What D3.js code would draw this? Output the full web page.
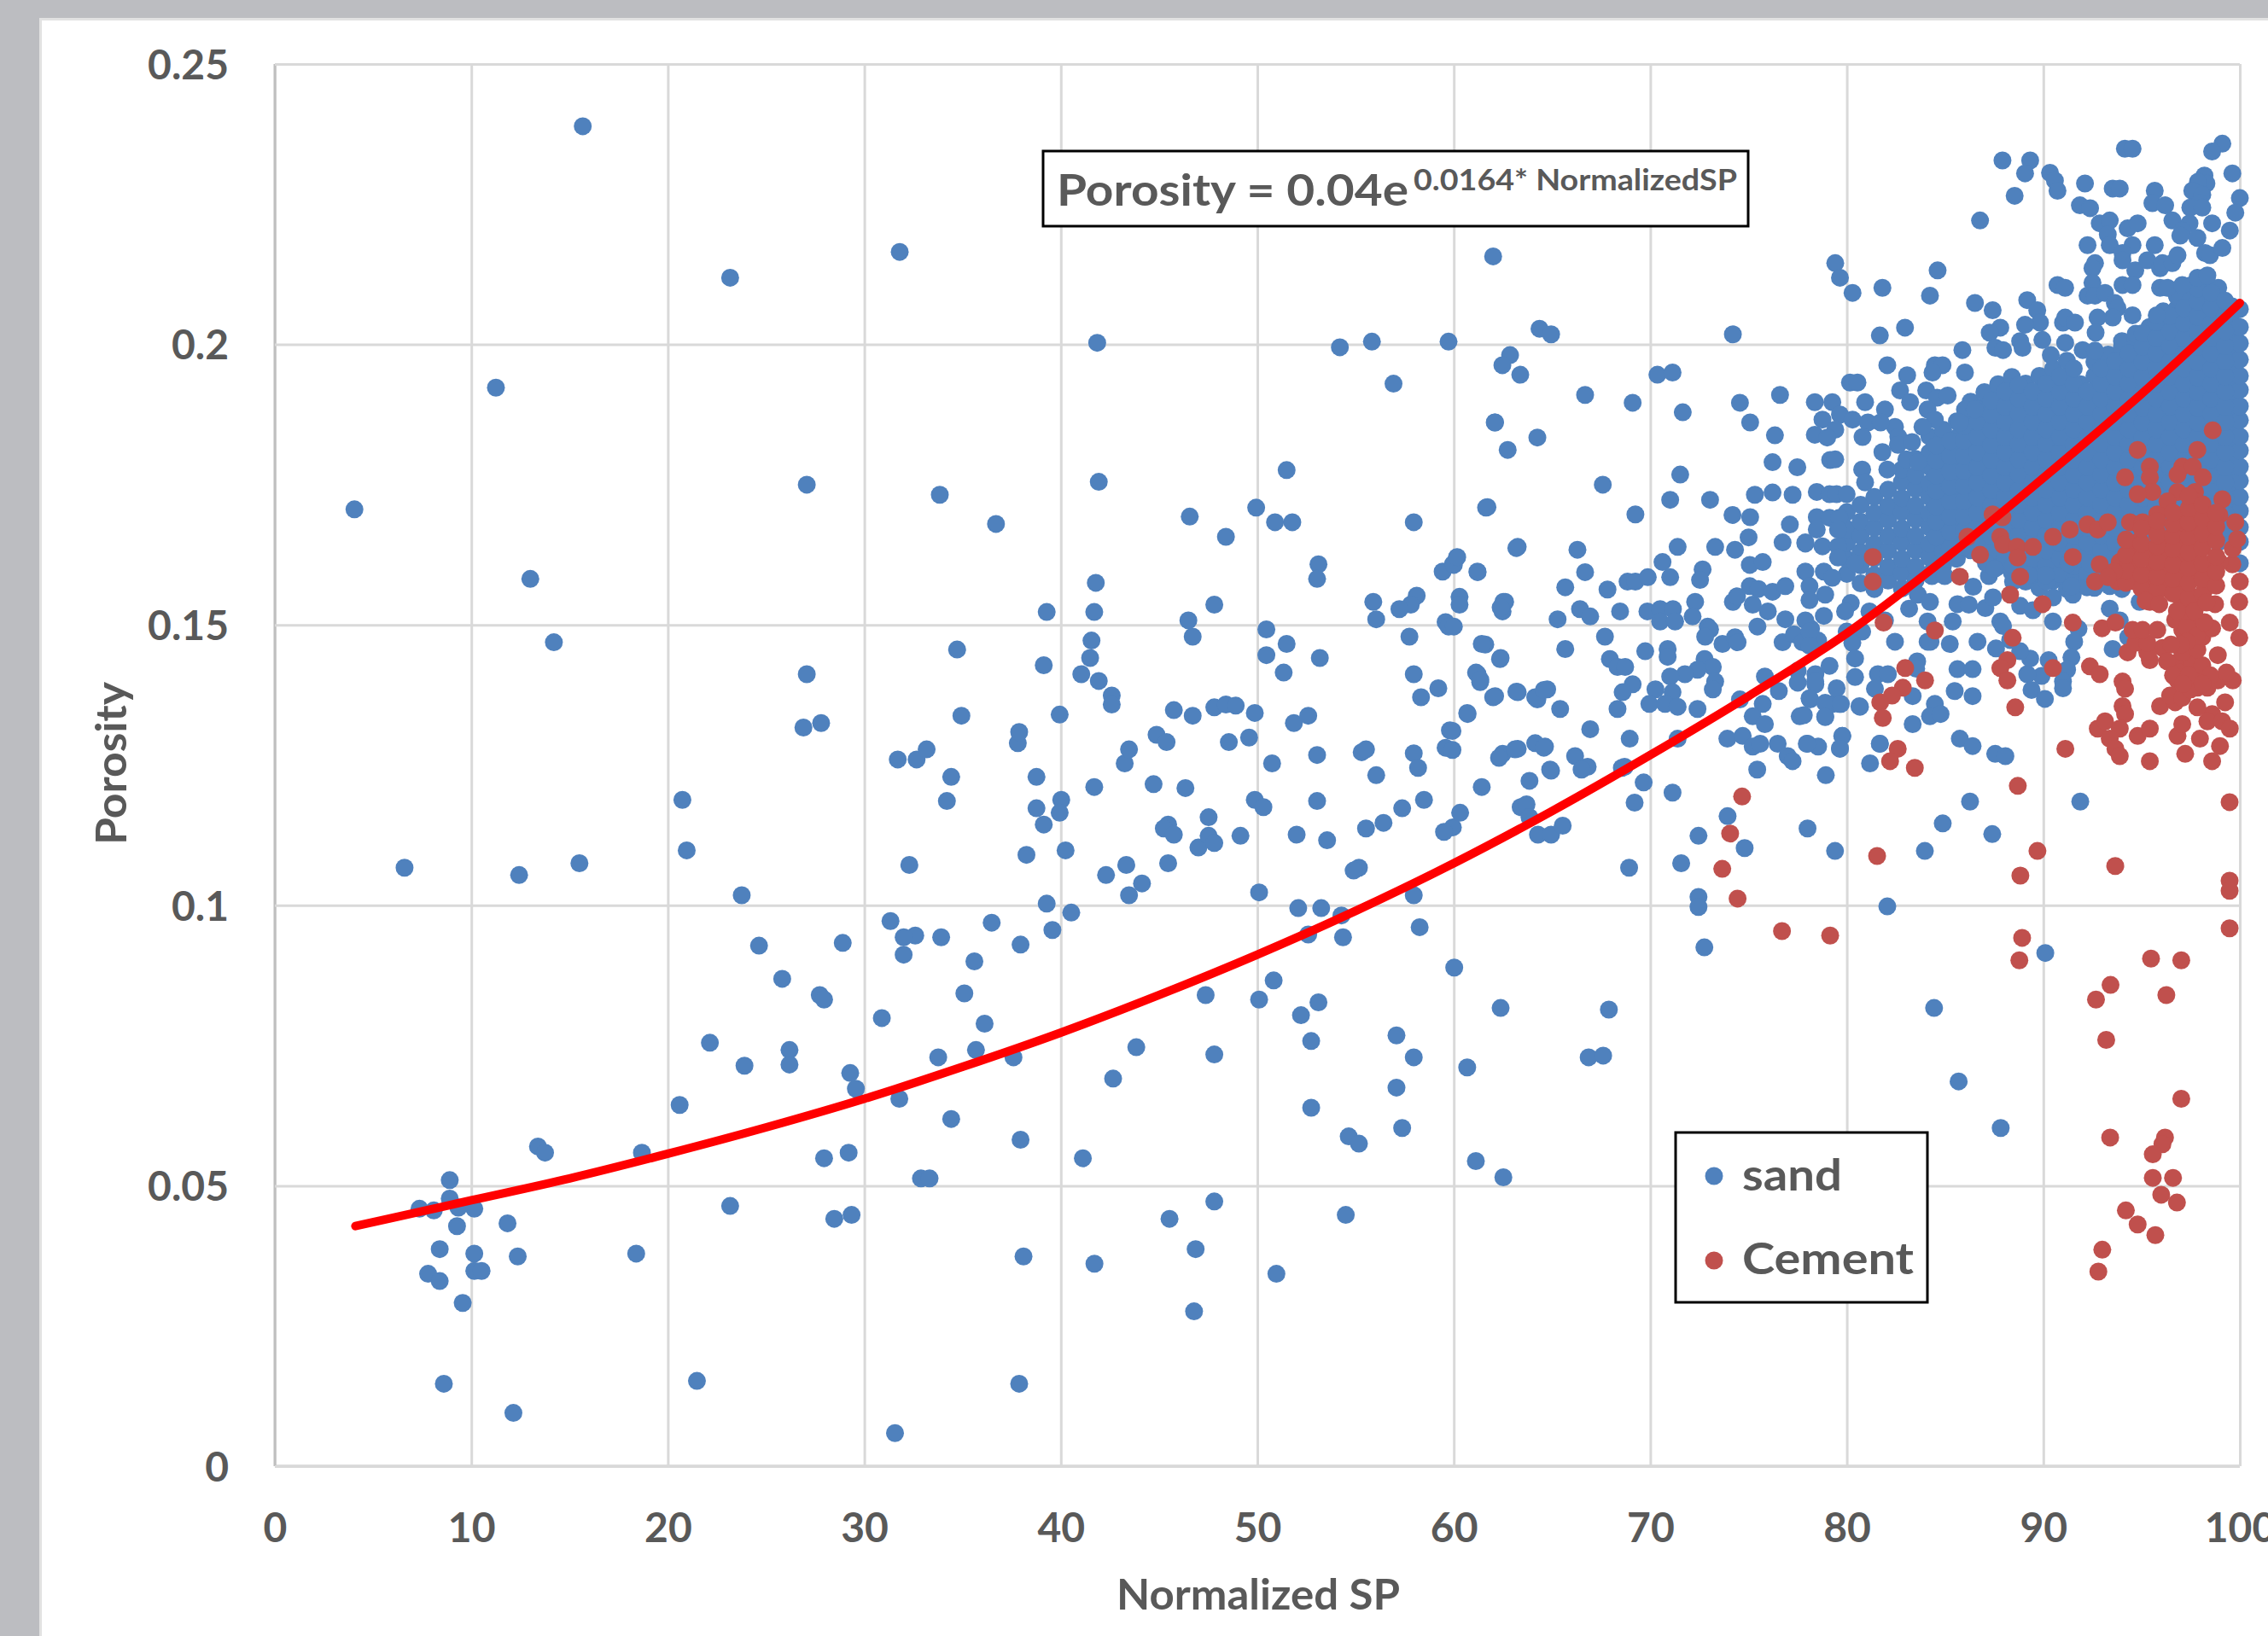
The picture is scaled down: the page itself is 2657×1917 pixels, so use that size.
<!DOCTYPE html>
<html>
<head>
<meta charset="utf-8">
<script src="https://d3js.org/d3.v7.min.js"></script>
<style>
html, body { margin: 0; padding: 0; background: #bcbdc1; }
svg { display: block; }
text { font-family: Lato, "Open Sans", sans-serif; font-weight: 700; fill: #595959; }
</style>
</head>
<body>
<svg id="chart" width="2657" height="1917"></svg>
<script>
var xTicks = [0, 10, 20, 30, 40, 50, 60, 70, 80, 90, 100];
var yTicks = [0, 0.05, 0.1, 0.15, 0.2, 0.25];

// scattered sand points, left part of the plot
var sandLeft = [
[4.05,.1706],[6.6,.1067],[15.67,.2389],[11.25,.1923],[13,.1582],[14.2,.1469],[12.43,.1054],[15.5,.1075],[23.17,.2119],[31.8,.2165],
[27.07,.175],[27.07,.1412],[26.9,.1317],[27.8,.1325],[20.74,.1188],[20.96,.1098],[23.76,.1018],[24.64,.0928],[25.82,.0869],[28.9,.0933],
[27.73,.084],[27.95,.0832],[26.19,.0742],[26.19,.0716],[22.14,.0755],[23.9,.0714],[20.6,.0644],[29.28,.0701],[29.57,.0673],[30.89,.0799],
[31.78,.0655],[27.95,.0549],[29.2,.0559],[28.47,.0441],[29.35,.0448],[23.17,.0464],[18.39,.0379],[18.68,.0559],[13.39,.057],[13.75,.0559],
[11.84,.0433],[12.36,.0374],[8.9,.051],[8.9,.0477],[7.36,.0459],[8.09,.0456],[9.34,.0461],[10.15,.0459],[9.27,.0428],[8.39,.0387],
[7.8,.0343],[8.39,.033],[10.15,.0379],[10.15,.0348],[10.52,.0348],[9.56,.0291],[8.6,.0147],[12.14,.0095],[21.48,.0152],[37.88,.0147],
[31.56,.0059],[31.7,.126],[32.66,.126],[33.17,.1278],[32.29,.1072],[34.2,.1186],[34.42,.1229],[34.72,.1456],[33.84,.1732],[36.7,.168],
[34.94,.1338],[37.81,.1289],[37.88,.1309],[38.76,.1229],[39.13,.1428],[39.28,.1523],[41.85,.2003],[41.93,.1755],[41.78,.1575],[41.7,.1523],
[41.56,.1472],[41.49,.1441],[41.04,.1412],[41.93,.14],[42.59,.1374],[42.59,.1358],[39.94,.134],[41.7,.1211],[38.76,.1173],[40.02,.1188],
[39.13,.1144],[39.94,.1165],[40.24,.1098],[38.25,.109],[39.28,.1003],[40.53,.0987],[39.57,.0956],[37.95,.093],[36.48,.0969],[35.6,.09],
[31.33,.0972],[32.59,.0946],[32,.0943],[32,.0912],[33.91,.0943],[35.09,.0843],[36.12,.0789],[35.68,.0742],[37.59,.0729],[33.76,.0729],
[34.42,.0619],[37.95,.0582],[41.12,.0549],[32.88,.0513],[33.32,.0513],[38.1,.0374],[41.71,.0361],[42.66,.0691],[43.84,.0747],[42.3,.1054],
[43.33,.1072],[43.47,.1018],[44.13,.1039],[43.25,.1253],[43.47,.1278],[44.72,.1216],[44.87,.1304],[45.38,.1291],[45.75,.1348],[46.71,.1338],
[47.81,.1353],[48.4,.1358],[48.9,.1356],[49.87,.1343],[48.55,.1291],[49.58,.1299],[46.34,.1209],[47.52,.1157],[45.46,.1144],[45.24,.1137],
[45.75,.1126],[45.46,.1075],[47,.1103],[47.52,.1124],[47.81,.1111],[49.14,.1124],[49.87,.1188],[50.31,.1175],[50.09,.1023],[46.49,.1508],
[46.71,.1479],[47.81,.1536],[46.56,.1693],[48.4,.1657],[49.94,.1709],[50.9,.1683],[51.78,.1683],[51.49,.1776],[53.11,.1608],[53.04,.1582],
[50.46,.1492],[50.46,.1446],[51.49,.1466],[51.34,.1415],[53.18,.1441],[51.86,.1325],[52.59,.1338],[50.75,.1253],[53.04,.1268],[53.04,.1186],
[52,.1126],[53.55,.1116],[55.31,.1273],[55.53,.1278],[56.05,.1232],[55.53,.1137],[56.42,.1147],[57.37,.1173],[57.96,.1271],[58.18,.1245],
[58.48,.1188],[55.17,.1067],[54.9,.1062],[54.28,.0982],[52.08,.0995],[53.25,.0995],[52.59,.0948],[54.36,.0943],[50.83,.0866],[50.09,.0832],
[53.11,.0827],[52.22,.0804],[52.74,.0758],[52.74,.0639],[47.37,.084],[47.81,.0734],[45.53,.0441],[47.81,.0472],[46.86,.0387],[46.78,.0276],
[50.97,.0343],[54.5,.0448],[54.65,.0588],[55.17,.0575],[57.08,.0768],[57.08,.0675],[57.37,.0603],[57.96,.0729],[57.96,.1018],[58.26,.0961],
[54.2,.1995],[55.83,.2005],[59.73,.2005],[56.93,.193],[57.96,.1683],[59.95,.1608],[59.43,.1595],[58.11,.1552],[57.81,.1536],[55.9,.1541],
[57.23,.1528],[56.05,.151],[57.74,.1479],[59.58,.1505],[59.73,.1497],[57.96,.1412],[59.21,.1387],[58.33,.1371],[59.8,.1312],[59.58,.1281],
[59.95,.1139],[59.5,.1131]
];

// scattered sand points, x from 60 to 80
var sandMiddle = [
[62,.2157],[62.86,.1981],[62.47,.1963],[63.38,.1946],[64.36,.2028],[64.95,.2018],[66.68,.191],[69.1,.1896],[71.65,.1879],[70.36,.1946],
[71.13,.195],[62.1,.1861],[64.25,.1834],[62.74,.1812],[67.58,.175],[61.71,.171],[71.52,.1768],[71.01,.1723],[69.24,.1697],[73.04,.1723],
[74.2,.2018],[74.56,.1896],[76.6,.191],[75.08,.1861],[76.34,.1838],[76.22,.179],[77.48,.1781],[75.32,.1732],[76.22,.1736],[77.24,.1732],
[74.18,.1696],[75.08,.1692],[77.1,.1679],[75,.1656],[74.31,.1634],[73.3,.1639],[71.39,.1639],[70.62,.1612],[63.25,.1639],[66.29,.1634],
[66.68,.1594],[60.15,.162],[60,.1607],[61.21,.1594],[65.67,.1567],[67.82,.1563],[68.84,.1577],[69.24,.1577],[69.87,.1585],[71.01,.1585],
[72.66,.1599],[72.53,.158],[75.06,.1607],[75.72,.1612],[76.73,.1647],[77.89,.1647],[60.29,.155],[60.29,.1536],[62.61,.1541],[62.48,.1524],
[66.42,.1528],[66.94,.1515],[65.28,.151],[68.46,.1524],[69.85,.1524],[70.5,.1528],[71.15,.1528],[70.5,.1506],[71.26,.1506],[72.28,.1541],
[72.15,.1515],[72.92,.1497],[73.04,.1492],[72.79,.1479],[74.2,.1541],[75.21,.1536],[75.98,.1524],[75.06,.1569],[75.5,.1564],[74.41,.1551],
[76.22,.1559],[76.87,.1569],[76.87,.151],[75.45,.1497],[60,.1497],[67.69,.1479],[61.6,.1465],[65.67,.1457],[62.35,.1439],[67.94,.1439],
[68.33,.1425],[68.72,.1425],[69.74,.1453],[70.88,.1457],[70.88,.1443],[73.67,.1466],[74.31,.1478],[74.44,.1469],[76.73,.1469],[77.31,.1483],
[77.74,.1469],[78.18,.1493],[78.54,.1472],[72.76,.1439],[73.18,.1425],[72.4,.142],[71.76,.1412],[71.01,.1408],[73.3,.1399],[73.18,.1385],
[71.13,.138],[69.1,.1394],[68.59,.138],[70.26,.1385],[69.95,.1359],[70.75,.1359],[71.39,.1354],[72.4,.135],[68.33,.135],[61.21,.1412],
[61.34,.1398],[62.1,.1373],[63.25,.138],[64.75,.1385],[64.25,.1367],[65.41,.135],[60.7,.1341],[59.93,.1311],[66.94,.1314],[68.95,.1297],
[71.39,.1297],[74.56,.1367],[75.83,.1408],[76.54,.1382],[75.72,.1359],[75.21,.1337],[75.83,.1323],[73.92,.1297],[74.7,.1302],[75.21,.1283],
[75.59,.1288],[76.48,.1288],[77.5,.1418],[77.5,.1397],[78.4,.1412],[78.4,.1394],[78.13,.1367],[77.6,.1337],[78.9,.1336],[79.26,.1359],
[79.63,.1359],[80.67,.1354],[79.77,.1302],[79.65,.128],[78,.1288],[78.54,.1283],[76.99,.1266],[77.24,.1257],[81.68,.1288],[81.18,.1253],
[62.48,.127],[63.25,.1279],[64.64,.1283],[66.17,.1266],[66.81,.1247],[59.93,.1277],[64.9,.1242],[68.69,.1247],[75.44,.1242],
[62.52,.1541],[62.38,.1531],[61.42,.1466],[61.13,.1415],[61.35,.1402],[62,.1371],[62.38,.1441],[63.18,.1381],[64.14,.1371],[64.58,.1384],
[63.11,.1278],[64.14,.1289],[60.68,.1343],[62.3,.1263],[61.42,.1211],[60.32,.1165],[63.85,.1222],[64.58,.1281],[64.95,.124],[63.4,.1175],
[63.7,.118],[63.85,.1157],[64.28,.1126],[64.95,.1126],[65.54,.1142],[60.17,.1621],[61.2,.1595],[62.08,.1861],[61.64,.1709],[63.18,.1637],
[66.5,.1242],[68.55,.1245],[69.2,.1183],[69.66,.1219],[68.92,.1067],[71.13,.1201],[72.45,.1124],[71.57,.1075],[72.45,.1015],[72.45,.0997],
[72.75,.0925],[67.89,.0814],[66.86,.0729],[67.6,.0732],[60.02,.0889],[60.68,.0711],[61.12,.0544],[62.52,.0515],[62.38,.0817],[73.93,.1159],
[74.8,.1102],[78,.1137],[79.4,.1097],[78.93,.1232]
];

// sand points around the top and lower rim of the dense cloud
var sandRim = [
[87.92,.2328],[89.33,.2328],[89.07,.2305],[88.54,.2265],[86.78,.2221],[90.34,.2306],[90.59,.2292],[90.72,.2274],[94.15,.2349],[94.54,.2349],
[99.11,.2358],[98.59,.2344],[99.62,.2305],[98.2,.2301],[92.12,.2287],[93.53,.2278],[93.89,.2278],[95.67,.2274],[98.3,.2287],[97.87,.229],
[97.58,.2274],[98.09,.2267],[97.94,.2252],[97.48,.2244],[98.09,.2244],[91.86,.2248],[92.38,.2243],[95.55,.2252],[96.2,.2248],[100,.2261],
[99.77,.2235],[98.59,.2216],[99.49,.2203],[96.57,.2221],[97.44,.2216],[97.07,.2203],[96.97,.2194],[97.84,.219],[92.87,.2216],[93.38,.2221],
[93.28,.2196],[94.29,.2207],[94.8,.2216],[92.25,.2177],[93.38,.2177],[94.54,.2177],[94.03,.2163],[94.03,.215],[95.67,.2177],[94.68,.2132],
[95.29,.215],[95.94,.2136],[96.06,.2145],[96.57,.2145],[96.83,.2159],[98.23,.2163],[98.48,.2159],[99.11,.2172],[92.63,.2145],[92.5,.2136],
[92.5,.211],[92.25,.2087],[92.63,.2087],[93.14,.2092],[93.64,.2074],[93.77,.2065],[93.53,.2048],[94.03,.2106],[94.54,.2106],[95.94,.2101],
[96.32,.2101],[97.07,.2106],[97.84,.2119],[98.35,.2123],[90.72,.2106],[91.11,.2101],[89.18,.2079],[89.69,.2061],[89.83,.2039],[89.07,.2035],
[91,.2039],[91.11,.2048],[91.61,.2039],[92.76,.2048],[94.54,.2052],[95.77,.2052],[92.66,.2021],[87.81,.203],[87.27,.2021],[87.42,.2061],
[86.52,.2074],[88.82,.2006],[89.95,.2008],[88.94,.1994],[87.56,.1994],[87.95,.199],[91.11,.2003],[90.38,.1981],[92,.199],[92.63,.1989],
[85.88,.199],[79.41,.2145],[79.65,.2119],[80.29,.2092],[81.81,.2101],[84.62,.2132],[84.23,.2087],[82.96,.203],[81.68,.2016],[82.06,.1963],
[83.07,.1945],[84.48,.1963],[84.87,.1963],[84.36,.195],[86.01,.195],[80.16,.1932],[80.54,.1932],[82.71,.1918],[80.93,.1897],[78.37,.1897],
[79.26,.1897],[78.76,.1866],[79.65,.1875],[80.29,.1866],[81.94,.1884],[83.22,.1897],[84.04,.1918],[84.59,.1905],[85.13,.1909],[84.11,.1884],
[84.48,.1866],[83.85,.1853],[86.01,.1884],[86.5,.1884],[85.75,.1861],[82.45,.1853],[81.07,.1861],[81.72,.1861],[79.41,.1848],[78.37,.1839],
[79,.1834],[80.8,.1835],[82.62,.1835],[82.6,.1821],[83.32,.1826],[81.81,.1808],[79.15,.1794],[79.41,.1795],[83.03,.1795],[83.61,.179],
[80.78,.1777],[82.06,.1777],[80.93,.1754],[78.47,.1737],[79.12,.1733],[79.48,.1733],[79.99,.1733],[78.47,.1692],[78.47,.167],[79.12,.1691],
[79.62,.1691],[79.55,.167],[77.89,.1645],[78.76,.164],[79.55,.164],[78.83,.1595],[77.89,.1595],[79.55,.162],[80.42,.161],[79.26,.1584],
[78.1,.1569],[78.9,.1554],[80.2,.1539],[79.91,.1524],[78.1,.1544],[78.83,.1516],[77.89,.1508],[81.15,.1524],[81.94,.1508],[79.99,.1488],
[78.1,.1488],[78.1,.1463],[80.78,.1488],[80.28,.1468],[80.42,.144],[79.12,.1427],[80.42,.1407],[78.39,.1399],[79.48,.1387],[78.1,.1369],
[78.9,.1361],[79.7,.1359],[80.64,.1355],[77.81,.1339],[78.9,.1336],[79.77,.1302],[77.96,.1288],[79.65,.1279],[81.68,.1288],
[82.45,.147],[83.58,.1435],[84.11,.147],[84.26,.147],[85.24,.1466],[86.65,.147],[81.58,.1412],[82.09,.1412],[83.53,.1422],[85.63,.1421],
[86.4,.1421],[81.43,.1386],[83.35,.1373],[85.49,.1382],[86.4,.1373],[84.48,.1359],[84.23,.1337],[84.77,.1341],[83.35,.1323],[85.75,.1297],
[86.4,.1284],[87.55,.127],[88.07,.1266],[84.11,.1506],[85.39,.1506],[83.17,.1529],[83.61,.1554],[84.23,.1541],[85.63,.1537],[86.21,.1536],
[86.43,.1568],[87.05,.153],[87.44,.1549],[87.81,.1506],[84.33,.1587],[84.98,.1587],[87.23,.1587],[87.08,.161],[87.52,.16],[88.46,.1605],
[88.46,.1577],[88.82,.1534],[89.47,.1526],[90.49,.1506],[90.49,.1549],[91.5,.1554],[92.22,.1567],[91.79,.1493],[91.57,.147],[91.43,.1442],
[91.21,.142],[90.27,.1437],[89.91,.1409],[89.18,.1412],[89.33,.144],[88.82,.1453],[88.31,.1473],[87.59,.1458],[87.95,.1498],[91,.1399],
[91,.1387],[89.4,.1384],[90.08,.1368],[93.53,.1457],[93.38,.1529],[93.89,.1508],[94.9,.1541],[94.32,.1478],[92.37,.161],[93.38,.1569],
[91.43,.1569],[90.12,.1589],[89.25,.1589],[91.28,.161],[86.27,.1185],[91.88,.1185],[84.88,.1146],[87.4,.1127],[83.97,.1097],[82.06,.0998],
[84.44,.0817],[85.69,.0686],[87.83,.0603],[90.1,.0915]
];

// the solid part of the sand cloud, read column by column
var sandCloudX = [80, 80.7, 81.4, 82.1, 82.8, 83.5, 84.2, 84.9, 85.6, 86.3, 87, 87.7, 88.4, 89.1, 89.8, 90.5, 91.2, 91.9, 92.6, 93.3, 94, 94.7, 95.4, 96.1, 96.8, 97.5, 98.2, 98.9, 99.6, 100];
var sandCloudY = [
[.1591,.1617,.1646,.1671,.1701],
[.1574,.1606,.1630,.1659,.1684,.1714],
[.1564,.1589,.1619,.1644,.1673,.1699,.1728],
[.1579,.1603,.1632,.1658,.1687,.1712,.1741],
[.1565,.1593,.1618,.1647,.1672,.1701,.1726,.1755,.1777],
[.1579,.1604,.1633,.1659,.1688,.1713,.1742,.1767,.1796],
[.1591,.1620,.1645,.1674,.1699,.1728,.1753,.1782,.1807,.1836],
[.1606,.1631,.1661,.1686,.1715,.1740,.1769,.1794,.1823,.1848],
[.1618,.1647,.1672,.1701,.1726,.1755,.1780,.1809,.1834,.1863],
[.1633,.1659,.1688,.1713,.1742,.1767,.1796,.1821,.1850,.1875,.1898],
[.1620,.1645,.1674,.1699,.1728,.1753,.1782,.1807,.1836,.1861,.1890,.1915],
[.1604,.1633,.1659,.1688,.1713,.1742,.1767,.1796,.1821,.1850,.1875,.1904,.1929],
[.1593,.1618,.1647,.1672,.1701,.1726,.1755,.1780,.1809,.1834,.1863,.1888,.1917,.1942],
[.1577,.1606,.1631,.1660,.1685,.1714,.1739,.1768,.1793,.1822,.1847,.1876,.1901,.1930],
[.1566,.1591,.1620,.1645,.1674,.1699,.1728,.1753,.1782,.1807,.1836,.1861,.1890,.1915,.1944],
[.1579,.1604,.1633,.1658,.1687,.1712,.1741,.1766,.1795,.1820,.1849,.1874,.1903,.1928,.1957],
[.1564,.1593,.1618,.1647,.1672,.1701,.1726,.1755,.1780,.1809,.1834,.1863,.1888,.1917,.1942,.1971],
[.1577,.1606,.1631,.1660,.1685,.1714,.1739,.1768,.1793,.1822,.1847,.1876,.1901,.1929],
[.1566,.1591,.1620,.1645,.1674,.1699,.1728,.1753,.1782,.1807,.1836,.1861,.1890,.1915,.1944,.1969],
[.1579,.1604,.1633,.1658,.1687,.1712,.1741,.1766,.1795,.1820,.1849,.1874,.1903,.1928,.1957,.1982],
[.1564,.1593,.1618,.1647,.1672,.1701,.1726,.1755,.1780,.1809,.1834,.1863,.1888,.1917,.1942,.1971,.1996,.2006],
[.1577,.1606,.1631,.1660,.1685,.1714,.1739,.1768,.1793,.1822,.1847,.1876,.1901,.1930,.1955,.1984,.2009,.2019],
[.1659,.1684,.1713,.1738,.1767,.1792,.1821,.1846,.1875,.1900,.1929,.1954,.1983,.2008,.2031],
[.1647,.1672,.1701,.1726,.1755,.1780,.1809,.1834,.1863,.1888,.1917,.1942,.1971,.1996,.2025,.2050,.2059],
[.1661,.1686,.1715,.1740,.1769,.1794,.1823,.1848,.1877,.1902,.1931,.1956,.1985,.2010,.2039,.2064,.2086],
[.1648,.1673,.1702,.1727,.1756,.1781,.1810,.1835,.1864,.1889,.1918,.1943,.1972,.1997,.2026,.2051,.2080,.2105],
[.1660,.1685,.1714,.1739,.1768,.1793,.1822,.1847,.1876,.1901,.1930,.1955,.1984,.2009,.2038,.2063,.2092,.2113],
[.1647,.1672,.1701,.1726,.1755,.1780,.1809,.1834,.1863,.1888,.1917,.1942,.1971,.1996,.2025,.2050,.2079,.2101],
[.1661,.1686,.1715,.1740,.1769,.1794,.1823,.1848,.1877,.1902,.1931,.1956,.1985,.2010,.2039,.2068],
[.1610,.1648,.1674,.1703,.1728,.1757,.1782,.1811,.1836,.1865,.1890,.1919,.1944,.1973,.2002,.2031,.2063]
];

// more of the cloud, in between the columns above
var sandFillX = [84.55, 85.25, 85.95, 86.65, 87.35, 88.05, 88.75, 89.45, 90.15, 90.85, 91.55, 92.25, 92.95, 93.65, 94.35, 95.05, 95.75, 96.45, 97.15, 97.85, 98.55, 99.25];
var sandFillY = [
[.1657,.1684,.1711,.1739,.1766,.1793,.1820],
[.1637,.1666,.1693,.1720,.1747,.1774,.1801,.1828],
[.1640,.1667,.1694,.1721,.1748,.1775,.1802,.1829,.1855],
[.1646,.1673,.1700,.1727,.1754,.1781,.1808,.1835,.1862,.1885],
[.1632,.1659,.1686,.1713,.1740,.1767,.1794,.1821,.1848,.1875,.1900],
[.1619,.1646,.1673,.1700,.1727,.1754,.1781,.1808,.1835,.1862,.1889,.1916],
[.1606,.1633,.1660,.1687,.1714,.1741,.1768,.1795,.1822,.1849,.1876,.1903,.1928],
[.1590,.1619,.1646,.1673,.1700,.1727,.1754,.1781,.1808,.1835,.1862,.1889,.1916],
[.1578,.1605,.1633,.1660,.1687,.1714,.1741,.1768,.1795,.1822,.1849,.1876,.1903,.1930],
[.1591,.1619,.1646,.1673,.1700,.1727,.1754,.1781,.1808,.1835,.1862,.1889,.1916,.1943],
[.1578,.1605,.1633,.1660,.1687,.1714,.1741,.1768,.1795,.1822,.1849,.1876,.1903,.1930,.1957],
[.1592,.1619,.1646,.1673,.1700,.1727,.1754,.1781,.1808,.1835,.1862,.1889,.1916],
[.1578,.1605,.1633,.1660,.1687,.1714,.1741,.1768,.1795,.1822,.1849,.1876,.1903,.1930,.1957],
[.1592,.1619,.1646,.1673,.1700,.1727,.1754,.1781,.1808,.1835,.1862,.1889,.1916,.1943,.1970],
[.1578,.1605,.1633,.1660,.1687,.1714,.1741,.1768,.1795,.1822,.1849,.1876,.1903,.1930,.1957,.1984],
[.1672,.1699,.1726,.1753,.1780,.1807,.1834,.1861,.1888,.1915,.1942,.1969,.1996,.2020],
[.1660,.1687,.1714,.1741,.1768,.1795,.1822,.1849,.1876,.1903,.1930,.1957,.1984,.2011,.2040],
[.1673,.1700,.1727,.1754,.1781,.1808,.1835,.1862,.1889,.1916,.1943,.1970,.1997,.2024,.2051],
[.1660,.1687,.1714,.1741,.1768,.1795,.1822,.1849,.1876,.1903,.1930,.1957,.1984,.2011,.2038,.2065],
[.1672,.1699,.1726,.1753,.1780,.1807,.1834,.1861,.1888,.1915,.1942,.1969,.1996,.2023,.2050,.2077,.2100],
[.1660,.1687,.1714,.1741,.1768,.1795,.1822,.1849,.1876,.1903,.1930,.1957,.1984,.2011,.2038,.2065,.2092],
[.1673,.1700,.1727,.1754,.1781,.1808,.1835,.1862,.1889,.1916,.1943,.1970,.1997,.2024,.2051,.2078]
];

var cementPoints = [
[98.62,.1847],[94.8,.1812],[97.84,.1812],[95.42,.1782],[97.07,.1782],[97.61,.1782],[96.83,.1768],[98.12,.1763],[94.16,.1763],[95.42,.1763],
[95.55,.1737],[94.8,.1733],[96.83,.1737],[97.72,.1737],[96.32,.172],[97.72,.172],[99.11,.1724],[95.8,.1697],[97.94,.1706],[94.41,.1683],
[95.05,.1683],[92.25,.1679],[92.77,.167],[93.28,.1683],[91.35,.167],[90.49,.1657],[87.42,.1697],[87.92,.1692],[86.14,.1657],[87.81,.1657],
[87.95,.1643],[88.67,.1639],[89.47,.1639],[88.69,.162],[86.78,.1625],[91.5,.1621],[92.87,.1608],[92.63,.1577],[85.75,.1586],[88.82,.1586],
[88.31,.1554],[89.96,.1537],[91.5,.1504],[81.32,.1621],[81.32,.1577],[81.87,.1504],[84.48,.149],[88.44,.1477],[88.17,.1437],[87.81,.1423],
[88.17,.1401],[90.49,.1423],[82.97,.1423],[83.98,.1401],[82.85,.1388],[82.3,.1374],[81.7,.1362],[81.83,.1334],[88.57,.1353],[82.59,.1279],
[82.2,.1257],[83.46,.1245],[91.12,.1279],[92.37,.1426],[92.87,.1412],[94.03,.1399],[94.16,.1386],[94.03,.1355],[94.16,.1341],[95.94,.1355],
[92.77,.1315],[93.14,.1328],[93.89,.1315],[93.38,.1297],[93.67,.1279],[93.89,.1266],[94.8,.1302],[95.42,.1315],[95.42,.1257],[96.83,.1302],
[97.07,.1323],[97.97,.1297],[97.22,.127],[98.99,.1284],[98.59,.1341],[98.35,.1328],[99.1,.1328],[99.49,.1315],[98.59,.1257],[99.25,.1362],
[97.84,.1353],[96.71,.1362],[96.45,.1374],[97.07,.137],[97.84,.1388],[98.35,.1388],[96.83,.1401],[97.36,.1401],[98.88,.1401],[99.64,.1401],
[99.32,.1415],[97.97,.1415],[96.83,.1433],[97.58,.1433],[98.09,.1428],[98.88,.1446],[97.07,.1451],[97.84,.1456],[98.09,.1478],[96.06,.1459],
[95.42,.1437],[94.29,.1451],[95.29,.1451],[94.69,.1468],[95.29,.1468],[94.54,.1491],[95.05,.1491],[95.8,.1491],[92.99,.1494],[93.67,.1504],
[95.42,.1541],[97.07,.1491],[96.71,.1509],[97.58,.1509],[98.59,.1494],[98.74,.1537],[99.49,.1504],[99.97,.1477],[99.97,.1541],[100,.1577],
[98.23,.1564],[97.07,.1564],[99.62,.1608],[99.64,.1636],[99.87,.1653],[99.77,.1683],[98.96,.1612],[98.52,.1589],[93.89,.1612],[93.79,.1577],
[94.54,.1635],[94.69,.161],[94.69,.1577],[95.62,.163],[95.62,.16],[95.55,.1569],[96.35,.1622],[96.35,.1594],[96.35,.1564],[97.07,.1676],
[97.07,.1651],[97.07,.1625],[97.07,.1594],[97.87,.1681],[97.87,.1655],[97.87,.1625],[97.87,.1594],[98.52,.1686],[98.67,.1661],[95.77,.1666],
[94.9,.165],[96.49,.1651],[98.96,.1696],[97.65,.1696],[97.07,.1539],[97.65,.1549],[96.79,.1686],
[74.67,.1194],[74.06,.1128],[73.66,.1065],[74.44,.1012],[76.7,.0954],[79.15,.0946],[81.54,.1088],[88.83,.1053],[89.7,.1097],[88.7,.1213],
[93.66,.107],[88.92,.0942],[88.78,.0902],[99.48,.1184],[99.48,.1044],[99.48,.1026],[99.48,.0959],[92.68,.0832],[93.42,.0858],[93.2,.076],
[97.02,.0655],[95.48,.0905],[97.02,.0902],[96.26,.084],[93.4,.0586],[96.19,.0586],[96.06,.0574],[95.57,.0556],[95.57,.0514],[96.6,.0514],
[96,.0484],[96.8,.047],[94.2,.0456],[94.8,.0431],[95.7,.0412],[93,.0386],[92.8,.0347]
];

// the solid patch of cement, x 94 to 99
var cementCore = [
[94.2,.1575],[94.2,.1598],[94.2,.1625],[94.2,.1652],[95,.1565],[95,.159],[95,.1618],[95,.1645],[95,.1672],
[95.8,.156],[95.8,.1586],[95.8,.1612],[95.8,.164],[95.8,.166],[95.8,.1685],[96.6,.1556],[96.6,.1582],[96.6,.1608],[96.6,.1635],
[96.6,.166],[96.6,.168],[96.6,.17],[97.4,.152],[97.4,.1548],[97.4,.1575],[97.4,.1602],[97.4,.163],[97.4,.1657],[97.4,.1683],
[97.4,.1708],[97.4,.173],[98.1,.1555],[98.1,.1582],[98.1,.161],[98.1,.1637],[98.1,.1663],[98.1,.169],[98.1,.1715],
[98.8,.157],[98.8,.1595],[98.8,.1622],[98.8,.165],[98.8,.1675],[98.8,.17],[93.6,.1595],[93.3,.1585],
[97.3,.1495],[97.8,.148],[97.3,.147],[96.9,.1415],[97.5,.1385],[97,.1465],[98.2,.1505],[96.5,.1465],[96.3,.1435],[96.6,.141],
[97.4,.141],[98.5,.141],[98.1,.1395],[97.1,.1395],[97.7,.1525],[98.3,.154],[96.8,.1525],[95.2,.1543],[95.9,.1537]
];

// fitted curve as it reads off the plot
var trendX = [4.1, 10, 15, 20, 25, 30, 35, 40, 45, 50, 55, 60, 65, 70, 75, 80, 85, 90, 95, 100];
var trendY = [.0428, .0474, .0513, .0557, .0604, .0655, .0712, .0773, .0840, .0912, .0990, .1075, .1168, .1268, .1373, .1485, .1618, .1762, .1912, .2074];

var seriesNames = ["sand", "Cement"];
var seriesColors = ["#4f81bd", "#c0504d"];

var plotLeft = 322, plotRight = 2624, plotTop = 75, plotBottom = 1718;
var dotR = 10.5;

var svg = d3.select("#chart");

svg.append("rect").attr("width", 2657).attr("height", 1917).attr("fill", "#bcbdc1");
svg.append("rect").attr("x", 46).attr("y", 21).attr("width", 2611).attr("height", 1896).attr("fill", "#e2e2e2");
svg.append("rect").attr("x", 49).attr("y", 24).attr("width", 2608).attr("height", 1893).attr("fill", "#ffffff");

var x = d3.scaleLinear().domain([0, 100]).range([plotLeft, plotRight]);
var y = d3.scaleLinear().domain([0, 0.25]).range([plotBottom, plotTop]);

var xAxis = d3.axisBottom(x).tickValues(xTicks).tickSize(plotTop - plotBottom).tickPadding(0).tickFormat(d3.format("d"));
var yAxis = d3.axisLeft(y).tickValues(yTicks).tickSize(plotLeft - plotRight).tickPadding(0).tickFormat(function (d) { return String(d); });

var gx = svg.append("g").attr("transform", "translate(0," + plotBottom + ")").call(xAxis);
var gy = svg.append("g").attr("transform", "translate(" + plotLeft + ",0)").call(yAxis);

gx.selectAll("line").attr("stroke", "#d9d9d9").attr("stroke-width", 3);
gy.selectAll("line").attr("stroke", "#d9d9d9").attr("stroke-width", 3);
gx.select(".domain").attr("d", "M" + plotLeft + ",0H" + plotRight).attr("stroke", "#bfbfbf").attr("stroke-width", 3);
gy.select(".domain").attr("d", "M0," + plotTop + "V" + plotBottom).attr("stroke", "#bfbfbf").attr("stroke-width", 3);

gx.selectAll("text").attr("y", 89).attr("dy", 0)
    .style("font-size", "48px").style("font-family", "Lato").attr("fill", "#595959").attr("text-anchor", "middle");
gy.selectAll("text").attr("x", -54).attr("dy", "0.36em")
    .style("font-size", "48px").style("font-family", "Lato").attr("fill", "#595959").attr("text-anchor", "end");

svg.append("text").attr("x", 1308).attr("y", 1886).attr("textLength", 332).attr("lengthAdjust", "spacingAndGlyphs")
    .style("font-size", "50px").text("Normalized SP");
svg.append("text").attr("transform", "translate(148,990) rotate(-90)")
    .attr("textLength", 191).attr("lengthAdjust", "spacingAndGlyphs")
    .style("font-size", "50px").text("Porosity");

function columnsToPoints(xs, ys) {
    var pts = [];
    xs.forEach(function (cx, i) {
        ys[i].forEach(function (cy) { pts.push([cx, cy]); });
    });
    return pts;
}

// cloud columns first, the points read one by one go over them
var sandPoints = columnsToPoints(sandCloudX, sandCloudY).concat(columnsToPoints(sandFillX, sandFillY), sandLeft, sandMiddle, sandRim);

function drawDots(points, color) {
    svg.append("g").selectAll("circle").data(points).enter().append("circle")
        .attr("cx", function (d) { return x(d[0]); })
        .attr("cy", function (d) { return y(d[1]); })
        .attr("r", dotR)
        .attr("fill", color);
}

drawDots(sandPoints, seriesColors[0]);
drawDots(cementPoints.concat(cementCore), seriesColors[1]);

var trendLine = d3.line()
    .x(function (d) { return x(d); })
    .y(function (d, i) { return y(trendY[i]); })
    .curve(d3.curveMonotoneX);

svg.append("path").attr("d", trendLine(trendX))
    .attr("fill", "none").attr("stroke", "#ff0000").attr("stroke-width", 10).attr("stroke-linecap", "round");

// equation label
svg.append("rect").attr("x", 1222).attr("y", 177).attr("width", 826).attr("height", 88)
    .attr("fill", "#ffffff").attr("stroke", "#000000").attr("stroke-width", 3);
svg.append("text").attr("x", 1238).attr("y", 241).attr("textLength", 412).attr("lengthAdjust", "spacingAndGlyphs")
    .style("font-size", "52px").text("Porosity = 0.04e");
svg.append("text").attr("x", 1656).attr("y", 223).attr("textLength", 379).attr("lengthAdjust", "spacingAndGlyphs")
    .style("font-size", "35px").text("0.0164* NormalizedSP");

// legend
svg.append("rect").attr("x", 1963).attr("y", 1327).attr("width", 295).attr("height", 199)
    .attr("fill", "#ffffff").attr("stroke", "#000000").attr("stroke-width", 3);
var legendDotY = [1378, 1477];
var legendTextY = [1395, 1493];
var legendTextW = [117, 201];
seriesNames.forEach(function (name, i) {
    svg.append("circle").attr("cx", 2008).attr("cy", legendDotY[i]).attr("r", dotR).attr("fill", seriesColors[i]);
    svg.append("text").attr("x", 2041).attr("y", legendTextY[i]).attr("textLength", legendTextW[i]).attr("lengthAdjust", "spacingAndGlyphs")
        .style("font-size", "52px").text(name);
});
</script>
</body>
</html>
